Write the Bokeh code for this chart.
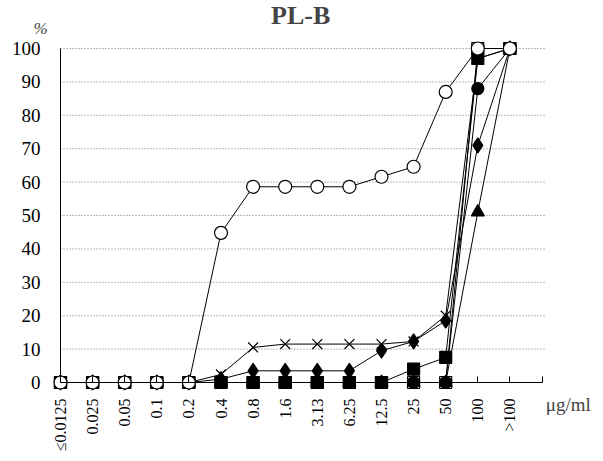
import math
from bokeh.plotting import figure
from bokeh.models import Range1d, FixedTicker, Label
from bokeh.embed import file_html
from bokeh.resources import INLINE

categories = ["≤0.0125", "0.025", "0.05", "0.1", "0.2", "0.4", "0.8", "1.6",
              "3.13", "6.25", "12.5", "25", "50", "100", ">100"]
y_ticks = [0, 10, 20, 30, 40, 50, 60, 70, 80, 90, 100]

open_square = [0, 0, 0, 0, 0, 0, 0, 0, 0, 0, 0, 0, 0, 100, 100]
triangle = [0, 0, 0, 0, 0, 0, 0, 0, 0, 0, 0, 0, 0, 51, 100]
filled_circle = [0, 0, 0, 0, 0, 0, 0, 0, 0, 0, 0, 0, 0, 88, 100]
filled_square = [0, 0, 0, 0, 0, 0, 0, 0, 0, 0, 0, 4, 7.5, 97, 100]
diamond = [0, 0, 0, 0, 0, 1, 3.5, 3.5, 3.5, 3.5, 9.5, 12.3, 18.5, 71, 100]
cross = [0, 0, 0, 0, 0, 2.4, 10.5, 11.5, 11.5, 11.5, 11.5, 12.3, 20, 97, 100]
open_circle = [0, 0, 0, 0, 0, 44.8, 58.6, 58.6, 58.6, 58.6, 61.6, 64.6, 87, 100, 100]

xs = list(range(len(categories)))

PX_X = 32.1   # pixels per category
PX_Y = 3.34   # pixels per percent
x0 = -60 / PX_X
y0 = -(461 - 382) / PX_Y

p = figure(width=603, height=461, output_backend="svg", toolbar_location=None,
           x_range=Range1d(x0, x0 + 603 / PX_X),
           y_range=Range1d(y0, y0 + 461 / PX_Y),
           min_border=0)
p.outline_line_color = None
p.background_fill_color = "white"
p.border_fill_color = "white"

SERIF = "Liberation Serif"

# axes
p.xaxis.fixed_location = 0
p.yaxis.fixed_location = 0
p.xaxis.bounds = (0, 15)
p.yaxis.bounds = (0, 100)
p.xaxis.ticker = FixedTicker(ticks=list(range(16)))
p.xaxis.major_label_overrides = {i: c for i, c in enumerate(categories)} | {15: ""}
p.xaxis.major_label_orientation = math.pi / 2
p.xaxis.major_tick_in = 6
p.xaxis.major_tick_out = 0
p.xaxis.minor_tick_line_color = None
p.xaxis.major_label_text_font = SERIF
p.xaxis.major_label_text_font_size = "16px"
p.xaxis.major_label_text_color = "black"
p.xaxis.axis_line_color = "black"
p.xaxis.major_label_standoff = 16

p.yaxis.ticker = FixedTicker(ticks=y_ticks)
p.yaxis.major_tick_in = 0
p.yaxis.major_tick_out = 0
p.yaxis.minor_tick_line_color = None
p.yaxis.major_label_text_font = SERIF
p.yaxis.major_label_text_font_size = "19px"
p.yaxis.major_label_text_color = "black"
p.yaxis.axis_line_color = "black"
p.yaxis.major_label_standoff = 20

p.grid.visible = False

# dotted horizontal grid lines, limited to the plotting area
grid_y = y_ticks[1:]
p.segment(x0=[0] * len(grid_y), x1=[15.1] * len(grid_y), y0=grid_y, y1=grid_y,
          line_color="#777777", line_dash="1 2", line_width=1)

series = [
    (open_square, "square", "white", 12),
    (triangle, "triangle", "black", 13),
    (filled_circle, "circle", "black", 12),
    (filled_square, "square", "black", 12),
    (diamond, "diamond", "black", 15),
    (cross, "x", "black", 14),
    (open_circle, "circle", "white", 13),
]
for vals, mk, fill, size in series:
    p.line(xs, vals, line_color="black", line_width=1)
for vals, mk, fill, size in series:
    p.scatter(xs, vals, marker=mk, size=size, fill_color=fill,
              line_color="black", line_width=1.2)

p.add_layout(Label(x=7.48, y=110.0, text="PL-B", text_font=SERIF,
                   text_font_size="26px", text_font_style="bold",
                   text_align="center", text_baseline="middle"))
p.add_layout(Label(x=-0.62, y=106, text="%", text_font=SERIF,
                   text_font_size="17px", text_font_style="italic",
                   text_align="center", text_baseline="middle"))
p.add_layout(Label(x=15.12, y=-6.6, text="μg/ml", text_font=SERIF,
                   text_font_size="19px",
                   text_align="left", text_baseline="middle"))

open("out.html", "w").write(file_html(p, INLINE))
